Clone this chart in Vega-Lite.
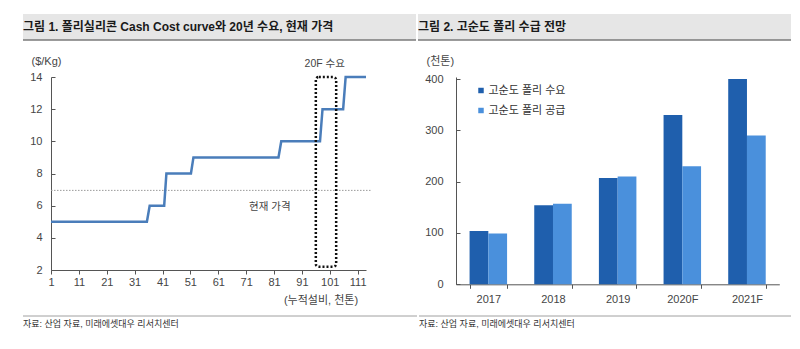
{
  "$schema": "https://vega.github.io/schema/vega-lite/v6.json",
  "background": "white",
  "padding": {"left": 22, "top": 14, "right": 0, "bottom": 0},
  "config": {
    "font": "Liberation Sans, Noto Sans CJK KR",
    "view": {"stroke": null},
    "axis": {"labelFontSize": 11, "labelColor": "#454545", "titleFontSize": 11, "titleColor": "#454545", "titleFontWeight": "normal", "domainColor": "#555555", "tickColor": "#555555", "grid": false, "labelOverlap": false}
  },
  "resolve": {"scale": {"color": "independent"}, "legend": {"color": "independent"}},
  "spacing": 14,
  "vconcat": [
    {
      "spacing": 0,
      "hconcat": [
        {
          "width": 393, "height": 26,
          "view": {"fill": "#e6e6e6", "stroke": null},
          "data": {"values": [{"title": "그림 1. 폴리실리콘 Cash Cost curve와 20년 수요, 현재 가격"}]},
          "layer": [
            {"mark": {"type": "rule", "color": "#7a7a7a", "strokeWidth": 1.5},
             "encoding": {"x": {"datum": 0, "type": "quantitative", "scale": {"domain": [0, 1]}, "axis": null}, "x2": {"datum": 1}, "y": {"datum": 0, "type": "quantitative", "scale": {"domain": [0, 1]}, "axis": null}}},
            {"mark": {"type": "text", "align": "left", "baseline": "middle", "fontSize": 12, "fontWeight": "bold", "color": "#1a1a1a"},
             "encoding": {"x": {"datum": 0, "type": "quantitative"}, "y": {"datum": 0.5, "type": "quantitative"}, "text": {"field": "title"}}}
          ]
        },
        {
          "width": 373, "height": 26,
          "view": {"fill": "#e6e6e6", "stroke": null},
          "data": {"values": [{"title": "그림 2. 고순도 폴리 수급 전망"}]},
          "layer": [
            {"mark": {"type": "rule", "color": "#7a7a7a", "strokeWidth": 1.5},
             "encoding": {"x": {"datum": 0, "type": "quantitative", "scale": {"domain": [0, 1]}, "axis": null}, "x2": {"datum": 1}, "y": {"datum": 0, "type": "quantitative", "scale": {"domain": [0, 1]}, "axis": null}}},
            {"mark": {"type": "text", "align": "left", "baseline": "middle", "fontSize": 12, "fontWeight": "bold", "color": "#1a1a1a"},
             "encoding": {"x": {"datum": 0, "type": "quantitative"}, "y": {"datum": 0.5, "type": "quantitative"}, "text": {"field": "title"}}}
          ]
        }
      ]
    },
    {
      "spacing": 10,
      "resolve": {"scale": {"color": "independent"}, "legend": {"color": "independent"}},
      "vconcat": [
        {
          "spacing": 0,
          "resolve": {"scale": {"color": "independent"}, "legend": {"color": "independent"}},
          "hconcat": [
            {"width": 6, "height": 1, "data": {"values": []}, "mark": "point"},
            {
              "width": 315, "height": 193,
              "layer": [
                {
                  "data": {"values": [{"x": 1, "x2": 116, "y": 6.95}]},
                  "mark": {"type": "rule", "color": "#9a9a9a", "strokeWidth": 1, "strokeDash": [1.5, 1.5]},
                  "encoding": {
                    "x": {"field": "x", "type": "quantitative", "scale": {"domain": [1, 114], "nice": false, "zero": false},
                      "axis": {"values": [1, 11, 21, 31, 41, 51, 61, 71, 81, 91, 101, 111], "tickCount": 30, "format": "d", "labelOverlap": false, "labelFlush": false, "tickSize": 4, "labelPadding": 2,
                        "title": "(누적설비, 천톤)", "titleX": 306.6, "titleY": 30, "titleAlign": "right", "titleBaseline": "middle", "titleAnchor": null}},
                    "x2": {"field": "x2"},
                    "y": {"field": "y", "type": "quantitative", "scale": {"domain": [2, 14], "nice": false, "zero": false},
                      "axis": {"values": [2, 4, 6, 8, 10, 12, 14], "tickCount": 30, "format": "d", "labelOverlap": false, "tickSize": -4, "labelPadding": 13,
                        "title": "($/Kg)", "titleAngle": 0, "titleX": -20, "titleY": -16, "titleAlign": "left", "titleBaseline": "middle"}}
                  }
                },
                {
                  "data": {"values": [
                    {"x": 1, "y": 5}, {"x": 35.4, "y": 5}, {"x": 36.4, "y": 6}, {"x": 41.6, "y": 6},
                    {"x": 42.4, "y": 8}, {"x": 51.2, "y": 8}, {"x": 52.1, "y": 9}, {"x": 82.6, "y": 9},
                    {"x": 83.6, "y": 10}, {"x": 97.5, "y": 10}, {"x": 98.4, "y": 12}, {"x": 105.8, "y": 12},
                    {"x": 106.7, "y": 14}, {"x": 114, "y": 14}
                  ]},
                  "mark": {"type": "line", "color": "#4a7dba", "strokeWidth": 2.5},
                  "encoding": {"x": {"field": "x", "type": "quantitative"}, "y": {"field": "y", "type": "quantitative"}}
                },
                {
                  "data": {"values": [{"x": 96, "x2": 103.3, "y": 2.2, "y2": 14}]},
                  "mark": {"type": "rect", "fill": null, "filled": false, "stroke": "#111111", "strokeWidth": 2.5, "strokeDash": [2, 2], "cornerRadius": 3},
                  "encoding": {"x": {"field": "x", "type": "quantitative"}, "x2": {"field": "x2"}, "y": {"field": "y", "type": "quantitative"}, "y2": {"field": "y2"}}
                },
                {
                  "data": {"values": [{"label": "20F 수요", "x": 99.2, "y": 14.8}, {"label": "현재 가격", "x": 79.5, "y": 5.9}]},
                  "mark": {"type": "text", "fontSize": 10.5, "color": "#454545", "baseline": "middle"},
                  "encoding": {"x": {"field": "x", "type": "quantitative"}, "y": {"field": "y", "type": "quantitative"}, "text": {"field": "label"}}
                }
              ]
            },
            {"width": 50.6, "height": 1, "data": {"values": []}, "mark": "point"},
            {
              "width": 323.3, "height": 207.3,
              "data": {"values": [
                {"year": "2017", "series": "고순도 폴리 수요", "value": 104},
                {"year": "2017", "series": "고순도 폴리 공급", "value": 99},
                {"year": "2018", "series": "고순도 폴리 수요", "value": 154},
                {"year": "2018", "series": "고순도 폴리 공급", "value": 157},
                {"year": "2019", "series": "고순도 폴리 수요", "value": 207},
                {"year": "2019", "series": "고순도 폴리 공급", "value": 210},
                {"year": "2020F", "series": "고순도 폴리 수요", "value": 330},
                {"year": "2020F", "series": "고순도 폴리 공급", "value": 230},
                {"year": "2021F", "series": "고순도 폴리 수요", "value": 400},
                {"year": "2021F", "series": "고순도 폴리 공급", "value": 290}
              ]},
              "mark": {"type": "bar"},
              "encoding": {
                "x": {"field": "year", "type": "nominal", "sort": null, "scale": {"paddingInner": 0.42, "paddingOuter": 0.21},
                  "axis": {"title": null, "labelAngle": 0, "tickBand": "extent", "tickSize": 4, "labelPadding": 5}},
                "xOffset": {"field": "series", "type": "nominal", "sort": ["고순도 폴리 수요", "고순도 폴리 공급"], "scale": {"paddingInner": 0, "paddingOuter": 0}},
                "y": {"field": "value", "type": "quantitative", "scale": {"domain": [0, 404], "nice": false},
                  "axis": {"values": [0, 100, 200, 300, 400], "tickCount": 30, "format": "d", "labelOverlap": false, "tickSize": -4, "labelPadding": 17,
                    "title": "(천톤)", "titleAngle": 0, "titleX": -30, "titleY": -16, "titleAlign": "left", "titleBaseline": "middle"}},
                "color": {"field": "series", "type": "nominal",
                  "scale": {"domain": ["고순도 폴리 수요", "고순도 폴리 공급"], "range": ["#1f5fad", "#4a90dc"]},
                  "legend": {"orient": "top-left", "offset": 8, "symbolOffset": 11.5, "title": null, "symbolType": "square", "symbolSize": 30, "symbolStrokeWidth": 0,
                    "labelFontSize": 11, "labelColor": "#333333", "rowPadding": 8, "labelOffset": 2, "padding": 0}}
              }
            }
          ]
        },
        {
          "spacing": 0,
          "hconcat": [
            {
              "width": 394, "height": 16,
              "data": {"values": [{"src": "자료: 산업 자료, 미래에셋대우 리서치센터"}]},
              "layer": [
                {"mark": {"type": "rule", "color": "#a0a0a0", "strokeWidth": 1},
                 "encoding": {"x": {"datum": 0, "type": "quantitative", "scale": {"domain": [0, 1]}, "axis": null}, "x2": {"datum": 1}, "y": {"datum": 1, "type": "quantitative", "scale": {"domain": [0, 1]}, "axis": null}}},
                {"mark": {"type": "text", "align": "left", "baseline": "middle", "fontSize": 9, "color": "#333333"},
                 "encoding": {"x": {"datum": 0, "type": "quantitative"}, "y": {"datum": 0.5, "type": "quantitative"}, "text": {"field": "src"}}}
              ]
            },
            {
              "width": 372, "height": 16,
              "data": {"values": [{"src": "자료: 산업 자료, 미래에셋대우 리서치센터"}]},
              "layer": [
                {"mark": {"type": "rule", "color": "#a0a0a0", "strokeWidth": 1},
                 "encoding": {"x": {"datum": 0, "type": "quantitative", "scale": {"domain": [0, 1]}, "axis": null}, "x2": {"datum": 1}, "y": {"datum": 1, "type": "quantitative", "scale": {"domain": [0, 1]}, "axis": null}}},
                {"mark": {"type": "text", "align": "left", "baseline": "middle", "fontSize": 9, "color": "#333333"},
                 "encoding": {"x": {"datum": 0, "type": "quantitative"}, "y": {"datum": 0.5, "type": "quantitative"}, "text": {"field": "src"}}}
              ]
            }
          ]
        }
      ]
    }
  ]
}
